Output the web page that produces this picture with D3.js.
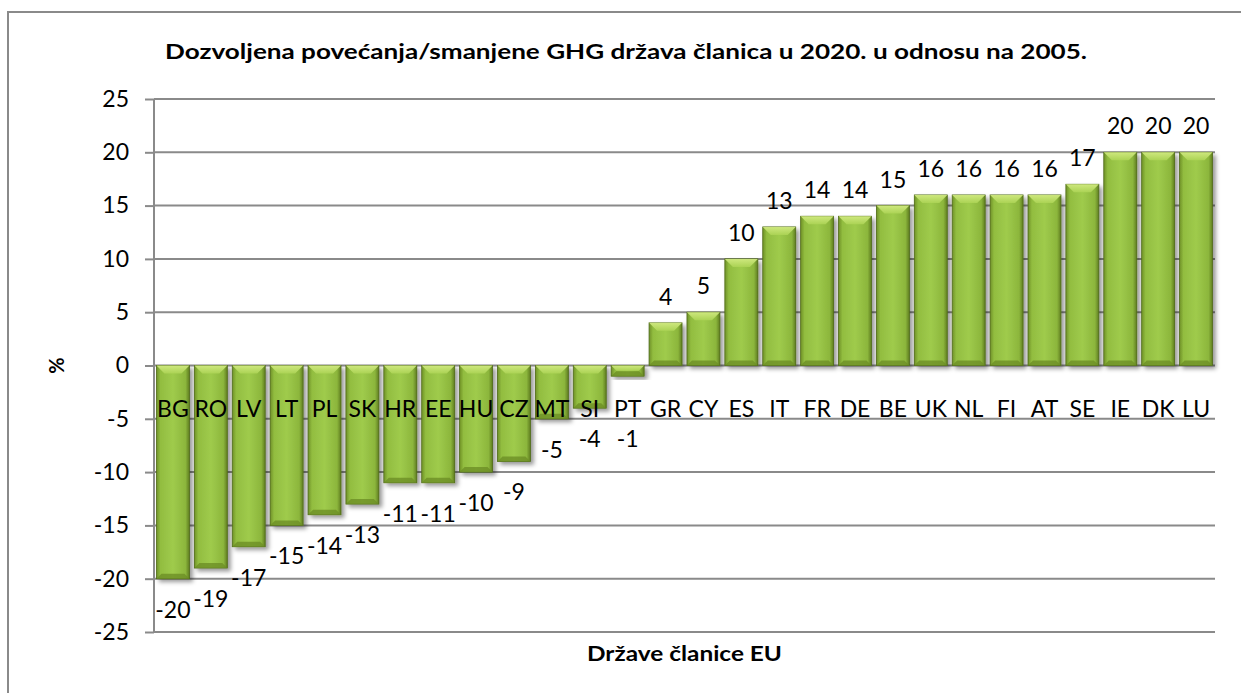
<!DOCTYPE html>
<html>
<head>
<meta charset="utf-8">
<script src="https://cdn.jsdelivr.net/npm/d3@7"></script>
<style>
body { margin: 0; background: #fff; }
svg { display: block; font-family: Lato, "Open Sans", sans-serif; }
</style>
</head>
<body>
<div id="chart"></div>
<script>
// chart data
var countries = ["BG", "RO", "LV", "LT", "PL", "SK", "HR", "EE", "HU", "CZ", "MT", "SI", "PT",
    "GR", "CY", "ES", "IT", "FR", "DE", "BE", "UK", "NL", "FI", "AT", "SE", "IE", "DK", "LU"];
var values = [-20, -19, -17, -15, -14, -13, -11, -11, -10, -9, -5, -4, -1,
    4, 5, 10, 13, 14, 14, 15, 16, 16, 16, 16, 17, 20, 20, 20];
var yTicks = [25, 20, 15, 10, 5, 0, -5, -10, -15, -20, -25];
var chartTitle = "Dozvoljena povećanja/smanjene GHG država članica u 2020. u odnosu na 2005.";
var xTitle = "Države članice EU";
var yTitle = "%";

var width = 1241, height = 693;
var plot = { left: 154, right: 1215, top: 99, bottom: 632 };
var font = "Lato, \"Open Sans\", sans-serif";

var svg = d3.select("#chart").append("svg")
    .attr("width", width)
    .attr("height", height);

// outer chart border (right/bottom edges fall outside the picture)
svg.append("rect")
    .attr("x", 8).attr("y", 12)
    .attr("width", 1300).attr("height", 720)
    .attr("fill", "none")
    .attr("stroke", "#8a8a8a")
    .attr("stroke-width", 2);

var defs = svg.append("defs");
var grad = defs.append("linearGradient").attr("id", "barFill")
    .attr("x1", "0%").attr("x2", "100%").attr("y1", "0%").attr("y2", "0%");
grad.append("stop").attr("offset", "0%").attr("stop-color", "#6f9127");
grad.append("stop").attr("offset", "12%").attr("stop-color", "#92bd40");
grad.append("stop").attr("offset", "50%").attr("stop-color", "#9fcb4c");
grad.append("stop").attr("offset", "88%").attr("stop-color", "#8cb63c");
grad.append("stop").attr("offset", "100%").attr("stop-color", "#5f7d20");

var bevel = defs.append("linearGradient").attr("id", "bevelFill")
    .attr("x1", "0%").attr("x2", "0%").attr("y1", "0%").attr("y2", "100%");
bevel.append("stop").attr("offset", "0%").attr("stop-color", "#d4ec84");
bevel.append("stop").attr("offset", "100%").attr("stop-color", "#add456");

var shadow = defs.append("filter").attr("id", "shadow")
    .attr("x", "-20%").attr("y", "-20%").attr("width", "150%").attr("height", "150%");
shadow.append("feDropShadow")
    .attr("dx", 3).attr("dy", 3).attr("stdDeviation", 2.2)
    .attr("flood-color", "#000").attr("flood-opacity", 0.4);

var x = d3.scaleBand()
    .domain(countries)
    .range([plot.left, plot.right])
    .paddingInner(0.13)
    .paddingOuter(0.065);

var y = d3.scaleLinear()
    .domain([-25, 25])
    .range([plot.bottom, plot.top]);

// y axis ticks + labels (plain hyphen minus like the original)
var yAxis = svg.append("g")
    .attr("transform", "translate(" + plot.left + ",0)")
    .call(d3.axisLeft(y).tickValues(yTicks).tickSize(9).tickPadding(16)
        .tickFormat(function(d) { return String(d); }));
yAxis.attr("font-family", font).attr("font-size", 23);
yAxis.select(".domain").remove();
yAxis.selectAll("line").attr("stroke", "#8a8a8a").attr("stroke-width", 2);
yAxis.selectAll("text").attr("fill", "#000");

// gridlines
svg.append("g").selectAll("line")
    .data(yTicks)
    .enter().append("line")
    .attr("x1", plot.left).attr("x2", plot.right)
    .attr("y1", function(d) { return y(d); })
    .attr("y2", function(d) { return y(d); })
    .attr("stroke", "#8a8a8a")
    .attr("stroke-width", 2);

svg.append("line")
    .attr("x1", plot.left).attr("x2", plot.left)
    .attr("y1", plot.top).attr("y2", plot.bottom)
    .attr("stroke", "#8a8a8a")
    .attr("stroke-width", 2);

// bars
var data = countries.map(function(c, i) { return { name: c, value: values[i] }; });

var bars = svg.append("g").selectAll("g.bar")
    .data(data)
    .enter().append("g")
    .attr("class", "bar");

bars.append("rect")
    .attr("x", function(d) { return x(d.name); })
    .attr("y", function(d) { return Math.min(y(d.value), y(0)); })
    .attr("width", x.bandwidth())
    .attr("height", function(d) { return Math.abs(y(d.value) - y(0)); })
    .attr("fill", "url(#barFill)")
    .attr("stroke", "#4f6a18")
    .attr("stroke-width", 0.8)
    .attr("filter", "url(#shadow)");

// top bevel face
bars.append("polygon")
    .attr("points", function(d) {
        var x0 = x(d.name), x1 = x0 + x.bandwidth();
        var top = Math.min(y(d.value), y(0));
        var h = Math.abs(y(d.value) - y(0));
        var b = Math.min(8, h / 2);
        return [[x0, top], [x1, top], [x1 - b, top + b], [x0 + b, top + b]]
            .map(function(p) { return p.join(","); }).join(" ");
    })
    .attr("fill", "url(#bevelFill)")
    .attr("opacity", 0.9);

// bottom bevel (darker)
bars.append("polygon")
    .attr("points", function(d) {
        var x0 = x(d.name), x1 = x0 + x.bandwidth();
        var bot = Math.max(y(d.value), y(0));
        var h = Math.abs(y(d.value) - y(0));
        var b = Math.min(5, h / 2);
        return [[x0, bot], [x1, bot], [x1 - b, bot - b], [x0 + b, bot - b]]
            .map(function(p) { return p.join(","); }).join(" ");
    })
    .attr("fill", "#6d8f26")
    .attr("opacity", 0.8);

// category labels (sit just below the zero line)
var catY = y(0) + 43;
svg.append("g").selectAll("text")
    .data(data)
    .enter().append("text")
    .attr("x", function(d) { return x(d.name) + x.bandwidth() / 2; })
    .attr("y", catY)
    .attr("dy", "0.35em")
    .attr("text-anchor", "middle")
    .attr("font-size", "23px")
    .attr("fill", "#000")
    .text(function(d) { return d.name; });

// value labels
svg.append("g").selectAll("text")
    .data(data)
    .enter().append("text")
    .attr("x", function(d) { return x(d.name) + x.bandwidth() / 2; })
    .attr("y", function(d) {
        if (d.value >= 0) return y(d.value) - 26;
        // push below the category label if it would overlap it
        return Math.max(y(d.value) + 31, catY + 30);
    })
    .attr("dy", "0.35em")
    .attr("text-anchor", "middle")
    .attr("font-size", "23px")
    .attr("fill", "#000")
    .text(function(d) { return d.value; });

// titles
svg.append("text")
    .attr("x", 626)
    .attr("y", 59)
    .attr("text-anchor", "middle")
    .attr("font-size", "21px")
    .attr("font-weight", "bold")
    .attr("textLength", 922)
    .attr("lengthAdjust", "spacingAndGlyphs")
    .text(chartTitle);

svg.append("text")
    .attr("x", (plot.left + plot.right) / 2)
    .attr("y", 661)
    .attr("text-anchor", "middle")
    .attr("font-size", "21px")
    .attr("font-weight", "bold")
    .attr("textLength", 195)
    .attr("lengthAdjust", "spacingAndGlyphs")
    .text(xTitle);

svg.append("text")
    .attr("transform", "translate(64," + y(0) + ") rotate(-90)")
    .attr("text-anchor", "middle")
    .attr("font-size", "20px")
    .attr("font-weight", "bold")
    .text(yTitle);
</script>
</body>
</html>
